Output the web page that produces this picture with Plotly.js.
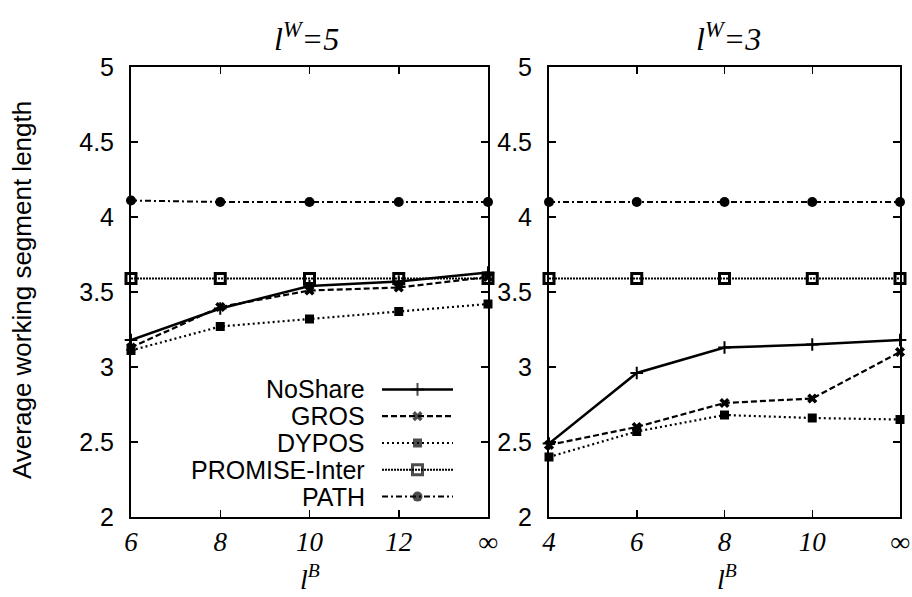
<!DOCTYPE html>
<html>
<head>
<meta charset="utf-8">
<script src="https://cdn.plot.ly/plotly-3.0.1.min.js"></script>
<style>html,body{margin:0;padding:0;background:#fff;}#chart{width:912px;height:597px;}</style>
</head>
<body>
<div id="chart"></div>
<script>
// ---- data ----
const seriesNames = ['NoShare', 'GROS', 'DYPOS', 'PROMISE-Inter', 'PATH'];

const leftCategories = ['6', '8', '10', '12', '∞'];
const leftNoShare = [3.18, 3.39, 3.54, 3.57, 3.63];
const leftGROS    = [3.13, 3.40, 3.51, 3.53, 3.60];
const leftDYPOS   = [3.11, 3.27, 3.32, 3.37, 3.42];
const leftPROMISE = [3.59, 3.59, 3.59, 3.59, 3.59];
const leftPATH    = [4.11, 4.10, 4.10, 4.10, 4.10];

const rightCategories = ['4', '6', '8', '10', '∞'];
const rightNoShare = [2.49, 2.96, 3.13, 3.15, 3.18];
const rightGROS    = [2.48, 2.60, 2.76, 2.79, 3.10];
const rightDYPOS   = [2.40, 2.57, 2.68, 2.66, 2.65];
const rightPROMISE = [3.59, 3.59, 3.59, 3.59, 3.59];
const rightPATH    = [4.10, 4.10, 4.10, 4.10, 4.10];

const yTickVals = [2, 2.5, 3, 3.5, 4, 4.5, 5];
const yTickText = ['2', '2.5', '3', '3.5', '4', '4.5', '5'];

// ---- styles ----
const W = 912, H = 597;
const styles = [
  {dash: 'solid', width: 2.5, symbol: 'cross-thin', size: 9, mline: 2},
  {dash: '6px,3px', width: 2.2, symbol: 'x', size: 9, mline: 0},
  {dash: '2px,3px', width: 2.2, symbol: 'square', size: 9, mline: 0},
  {dash: '2px,1px', width: 2, symbol: 'square-open', size: 10, mline: 3},
  {dash: '6px,3px,2px,3px', width: 2, symbol: 'circle', size: 10, mline: 0}
];

function mk(x, y, i, xa, ya) {
  const s = styles[i];
  return {
    x: x, y: y, xaxis: xa, yaxis: ya, type: 'scatter', mode: 'lines+markers',
    name: seriesNames[i], showlegend: false, cliponaxis: false,
    line: {color: '#000', width: s.width, dash: s.dash},
    marker: {symbol: s.symbol, size: s.size, color: '#000', line: {color: '#000', width: s.mline}}
  };
}

const leftSeries = [leftNoShare, leftGROS, leftDYPOS, leftPROMISE, leftPATH];
const rightSeries = [rightNoShare, rightGROS, rightDYPOS, rightPROMISE, rightPATH];

const traces = [];
leftSeries.forEach((ys, i) => traces.push(mk(leftCategories, ys, i, 'x', 'y')));
rightSeries.forEach((ys, i) => traces.push(mk(rightCategories, ys, i, 'x2', 'y2')));

// legend samples (custom legend: text on the left, sample on the right)
const legendRows = seriesNames.map((_, i) => i);
seriesNames.forEach((n, i) => {
  const s = styles[i];
  traces.push({
    x: [0, 0.5, 1], y: [i, i, i], xaxis: 'x3', yaxis: 'y3', type: 'scatter',
    mode: 'lines+markers', showlegend: false, hoverinfo: 'skip', cliponaxis: false,
    line: {color: '#000', width: s.width, dash: s.dash},
    marker: {symbol: s.symbol, size: [0, s.size, 0], color: '#000', line: {color: '#000', width: [0, s.mline, 0]}}
  });
});

const px = v => v / W;
const py = v => 1 - v / H;

const tickFont = {family: 'Liberation Sans, Arial, sans-serif', size: 25, color: '#000'};
const xTickFont = {family: 'Liberation Serif, Times New Roman, serif', size: 27, color: '#000', style: 'italic'};

function xax(domain, cats) {
  return {
    domain: domain, type: 'category', categoryarray: cats, categoryorder: 'array',
    range: [0, cats.length - 1], showline: true, linecolor: '#000', linewidth: 2,
    mirror: 'ticks', ticks: 'inside', ticklen: 7, tickwidth: 1.5, tickcolor: '#000',
    showgrid: false, zeroline: false, tickfont: xTickFont, ticklabelstandoff: 0,
    fixedrange: true
  };
}
function yax(anchor) {
  return {
    domain: [py(517), py(67)], anchor: anchor, range: [2, 5],
    tickvals: yTickVals, ticktext: yTickText,
    showline: true, linecolor: '#000', linewidth: 2, mirror: 'ticks',
    ticks: 'inside', ticklen: 7, tickwidth: 1.5, tickcolor: '#000',
    showgrid: false, zeroline: false, tickfont: tickFont, ticklabelstandoff: 10,
    fixedrange: true
  };
}

const annotations = [];
// legend texts
seriesNames.forEach((n, i) => {
  annotations.push({
    xref: 'paper', yref: 'y3', x: px(367), y: i, text: n, showarrow: false,
    xanchor: 'right', yanchor: 'middle',
    font: {family: 'Liberation Sans, Arial, sans-serif', size: 25, color: '#000'}
  });
});
// panel titles
const italic = {family: 'Liberation Serif, Times New Roman, serif', size: 32, color: '#000'};
const italicB = {family: 'Liberation Serif, Times New Roman, serif', size: 28, color: '#000'};
annotations.push({xref: 'paper', yref: 'paper', x: px(306), y: py(37), text: '<i>l</i><sup><i>W</i></sup><i>=5</i>', showarrow: false, xanchor: 'center', yanchor: 'middle', font: italic});
annotations.push({xref: 'paper', yref: 'paper', x: px(728), y: py(37), text: '<i>l</i><sup><i>W</i></sup><i>=3</i>', showarrow: false, xanchor: 'center', yanchor: 'middle', font: italic});
annotations.push({xref: 'paper', yref: 'paper', x: px(310), y: 0, text: '<i>l</i><sup><i>B</i></sup>', showarrow: false, xanchor: 'center', yanchor: 'bottom', yshift: 0, font: italicB});
annotations.push({xref: 'paper', yref: 'paper', x: px(727), y: 0, text: '<i>l</i><sup><i>B</i></sup>', showarrow: false, xanchor: 'center', yanchor: 'bottom', yshift: 0, font: italicB});
// y-axis title
annotations.push({xref: 'paper', yref: 'paper', x: px(22), y: py(290), text: 'Average working segment length', showarrow: false, textangle: -90, xanchor: 'center', yanchor: 'middle', font: {family: 'Liberation Sans, Arial, sans-serif', size: 26, color: '#000'}});

const layout = {
  width: W, height: H, margin: {l: 0, r: 0, t: 0, b: 0},
  paper_bgcolor: '#fff', plot_bgcolor: 'rgba(0,0,0,0)', showlegend: false,
  xaxis: Object.assign(xax([px(131), px(488)], leftCategories), {anchor: 'y'}),
  yaxis: yax('x'),
  xaxis2: Object.assign(xax([px(549), px(900)], rightCategories), {anchor: 'y2'}),
  yaxis2: yax('x2'),
  xaxis3: {domain: [px(382), px(453)], range: [0, 1], visible: false, anchor: 'y3', fixedrange: true},
  yaxis3: {domain: [py(510), py(376)], range: [legendRows.length - 0.5, -0.5], visible: false, anchor: 'x3', fixedrange: true},
  annotations: annotations
};

Plotly.newPlot('chart', traces, layout, {displayModeBar: false, staticPlot: true});
</script>
</body>
</html>
